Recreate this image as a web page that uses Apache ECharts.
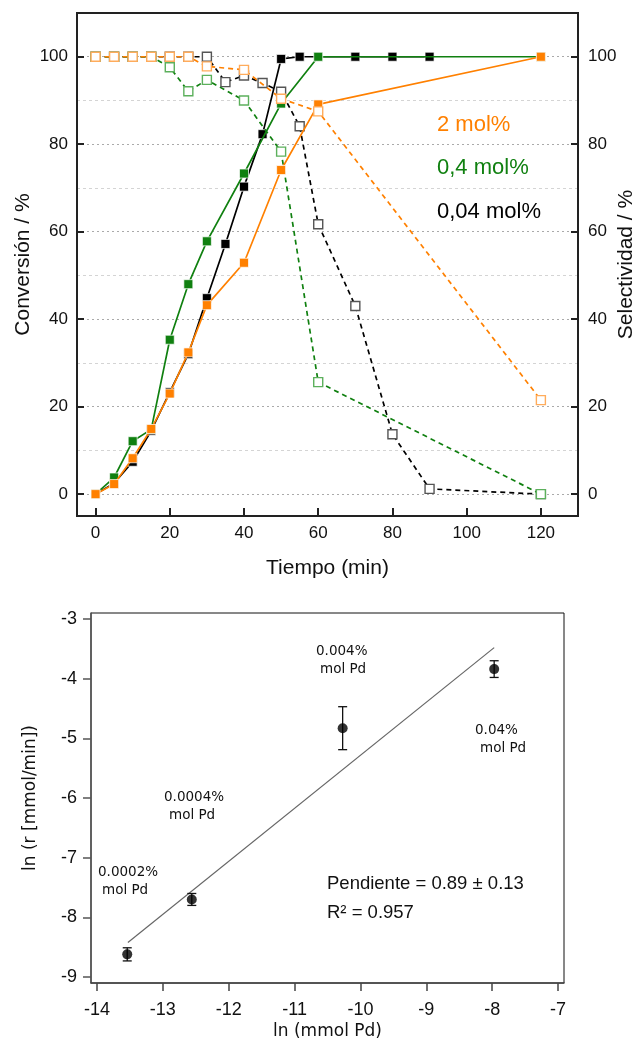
<!DOCTYPE html>
<html><head><meta charset="utf-8">
<script src="https://cdn.jsdelivr.net/npm/echarts@6/dist/echarts.min.js"></script>
<style>html,body{margin:0;padding:0;background:#fff}#c{width:639px;height:1043px}</style>
</head><body><div id="c"></div>
<script>
// ---------- top chart data ----------
const timeBlackConv = [0,5,10,15,20,25,30,35,40,45,50,55,70,80,90];
const convBlack     = [0,2.5,7.4,14.5,23.3,32,44.8,57.2,70.3,82.3,99.5,100,100,100,100];
const timeGreenConv = [0,5,10,15,20,25,30,40,50,60,120];
const convGreen     = [0,3.8,12.1,14.8,35.3,48,57.8,73.3,89.3,100,100];
const timeOrangeConv = [0,5,10,15,20,25,30,40,50,60,120];
const convOrange     = [0,2.3,8.2,14.9,23,32.4,43.2,52.9,74.1,89.1,100];

const timeBlackSel = [0,5,10,15,20,25,30,35,40,45,50,55,60,70,80,90,120];
const selBlack     = [100,100,100,100,100,100,100,94.2,95.7,94,92,84.1,61.7,43,13.7,1.2,0];
const timeGreenSel = [0,5,10,15,20,25,30,40,50,60,120];
const selGreen     = [100,100,100,100,97.6,92.1,94.7,90,78.3,25.6,0];
const timeOrangeSel = [0,5,10,15,20,25,30,40,50,60,120];
const selOrange     = [100,100,100,100,100,100,97.8,97,90.4,87.5,21.5];

const timeTicks = [0,20,40,60,80,100,120];
const pctTicks  = [0,20,40,60,80,100];
const pctMinor  = [10,30,50,70,90];
const seriesNames = ['2 mol%','0,4 mol%','0,04 mol%'];

// ---------- bottom chart data ----------
const lnPd    = [-13.54,-12.56,-10.27,-7.97];
const lnRate  = [-8.62,-7.70,-4.83,-3.84];
const rateErr = [0.11,0.10,0.36,0.14];
const fitX = [-13.53,-7.97];
const fitY = [-8.42,-3.48];
const lnPdTicks   = [-14,-13,-12,-11,-10,-9,-8,-7];
const lnRateTicks = [-9,-8,-7,-6,-5,-4,-3];
const pointLabels = [['0.0002%','mol Pd'],['0.0004%','mol Pd'],['0.004%','mol Pd'],['0.04%','mol Pd']];
const fitText1 = 'Pendiente = 0.89 \u00b1 0.13';
const fitText2 = 'R\u00b2 = 0.957';

const ORANGE = '#ff8000', GREEN = '#108010', BLACK = '#000000';
const FF = 'Liberation Sans, Arial, sans-serif';
const pairs = (xs, ys) => xs.map((x,i)=>[x, ys[i]]);

function convSeries(name, xs, ys, color, z) {
  return {type:'line', name, xAxisIndex:0, yAxisIndex:0, data:pairs(xs,ys), z,
    symbol:'rect', symbolSize:9, showAllSymbol:true, silent:true,
    lineStyle:{color, width:1.7},
    itemStyle:{color, borderColor:'rgba(255,255,255,0.7)', borderWidth:1}};
}
function selSeries(name, xs, ys, color, border, z) {
  return {type:'line', name, xAxisIndex:0, yAxisIndex:1, data:pairs(xs,ys), z,
    symbol:'rect', symbolSize:9, showAllSymbol:true, silent:true,
    lineStyle:{color, width:1.7, type:[5,4]},
    itemStyle:{color:'#fff', borderColor:border, borderWidth:1.4}};
}

const chart = echarts.init(document.getElementById('c'), null, {renderer:'canvas'});
const option = {
  animation:false,
  backgroundColor:'#fff',
  grid:[
    {left:77, top:13, width:501, height:503, show:true, borderColor:'#222', borderWidth:2, backgroundColor:'transparent', outerBoundsMode:'none', containLabel:false},
    {left:91, top:613, width:473, height:370, show:true, borderColor:'#111', borderWidth:1, backgroundColor:'transparent', outerBoundsMode:'none', containLabel:false}
  ],
  xAxis:[
    {gridIndex:0, type:'value', min:-5, max:130,
      axisLine:{show:true, onZero:false, lineStyle:{color:'#222', width:2}},
      axisTick:{show:true, inside:true, length:8, customValues:timeTicks, lineStyle:{color:'#222', width:2}},
      axisLabel:{customValues:timeTicks, fontSize:17, color:'#111', margin:9, fontFamily:FF},
      splitLine:{show:false},
      name:'Tiempo (min)', nameLocation:'middle', nameGap:42, nameMoveOverlap:false,
      nameTextStyle:{fontSize:21, color:'#111', fontFamily:FF}},
    {gridIndex:1, type:'value', min:-14.09, max:-6.91,
      axisLine:{show:true, onZero:false, lineStyle:{color:'#444', width:1.5}},
      axisTick:{show:true, inside:false, length:8, customValues:lnPdTicks, lineStyle:{color:'#444', width:1.5}},
      axisLabel:{customValues:lnPdTicks, fontSize:18, color:'#111', margin:18, fontFamily:FF},
      splitLine:{show:false},
      name:'ln (mmol Pd)', nameLocation:'middle', nameGap:40, nameMoveOverlap:false,
      nameTextStyle:{fontSize:17, color:'#111', fontFamily:'DejaVu Sans, sans-serif'}}
  ],
  yAxis:[
    {gridIndex:0, type:'value', min:-5, max:110, position:'left',
      axisLine:{show:true, onZero:false, lineStyle:{color:'#222', width:2}},
      axisTick:{show:true, inside:true, length:7, customValues:pctTicks, lineStyle:{color:'#222', width:2}},
      axisLabel:{customValues:pctTicks, fontSize:17, color:'#111', margin:9, fontFamily:FF},
      splitLine:{show:true, lineStyle:{color:'#aaa', width:1, type:[2,3]}},
      name:'Conversi\u00f3n / %', nameLocation:'middle', nameGap:43, nameRotate:90, nameMoveOverlap:false,
      nameTextStyle:{fontSize:21, color:'#111', fontFamily:FF}},
    {gridIndex:0, type:'value', min:-5, max:110, position:'right',
      axisLine:{show:true, onZero:false, lineStyle:{color:'#222', width:2}},
      axisTick:{show:true, inside:true, length:7, customValues:pctTicks, lineStyle:{color:'#222', width:2}},
      axisLabel:{customValues:pctTicks, fontSize:17, color:'#111', margin:10, fontFamily:FF},
      splitLine:{show:false},
      name:'Selectividad / %', nameLocation:'middle', nameGap:38, nameRotate:90, nameMoveOverlap:false,
      nameTextStyle:{fontSize:21, color:'#111', fontFamily:FF}},
    {gridIndex:0, type:'value', min:-5, max:110, position:'left',
      axisLine:{show:false}, axisTick:{show:false, customValues:pctMinor},
      axisLabel:{show:false, customValues:pctMinor},
      splitLine:{show:true, lineStyle:{color:'#d4d4d4', width:1, type:[3,3]}}},
    {gridIndex:1, type:'value', min:-9.1, max:-2.9, position:'left',
      axisLine:{show:true, onZero:false, lineStyle:{color:'#555', width:1.5}},
      axisTick:{show:true, inside:false, length:8, customValues:lnRateTicks, lineStyle:{color:'#555', width:1.5}},
      axisLabel:{customValues:lnRateTicks, fontSize:18, color:'#111', margin:14, fontFamily:FF},
      splitLine:{show:false},
      name:'ln (r [mmol/min])', nameLocation:'middle', nameGap:52, nameRotate:90, nameMoveOverlap:false,
      nameTextStyle:{fontSize:17, color:'#111', fontFamily:'DejaVu Sans, sans-serif'}}
  ],
  series:[
    convSeries('conv '+seriesNames[2], timeBlackConv, convBlack, BLACK, 2),
    selSeries('sel '+seriesNames[2], timeBlackSel, selBlack, BLACK, '#555', 3),
    convSeries('conv '+seriesNames[1], timeGreenConv, convGreen, GREEN, 4),
    selSeries('sel '+seriesNames[1], timeGreenSel, selGreen, GREEN, '#5cb05c', 5),
    convSeries('conv '+seriesNames[0], timeOrangeConv, convOrange, ORANGE, 6),
    selSeries('sel '+seriesNames[0], timeOrangeSel, selOrange, ORANGE, '#ffac5c', 7),
    {type:'line', name:'fit', xAxisIndex:1, yAxisIndex:3, data:pairs(fitX, fitY),
      symbol:'none', silent:true, lineStyle:{color:'#666', width:1.2}, z:2},
    {type:'custom', name:'err', xAxisIndex:1, yAxisIndex:3, silent:true, z:3,
      data: lnPd.map((x,i)=>[x, lnRate[i]-rateErr[i], lnRate[i]+rateErr[i]]),
      encode:{x:0, y:[1,2]},
      renderItem:(params, api)=>{
        const x = api.value(0);
        const p1 = api.coord([x, api.value(2)]);
        const p2 = api.coord([x, api.value(1)]);
        const w = 4.5, st = {stroke:'#111', lineWidth:1.3};
        return {type:'group', children:[
          {type:'line', shape:{x1:p1[0], y1:p1[1], x2:p2[0], y2:p2[1]}, style:st},
          {type:'line', shape:{x1:p1[0]-w, y1:p1[1], x2:p1[0]+w, y2:p1[1]}, style:st},
          {type:'line', shape:{x1:p2[0]-w, y1:p2[1], x2:p2[0]+w, y2:p2[1]}, style:st}
        ]};
      }},
    {type:'scatter', name:'pts', xAxisIndex:1, yAxisIndex:3, data:pairs(lnPd, lnRate),
      symbol:'circle', symbolSize:10, silent:true, itemStyle:{color:'#000'}, z:4}
  ],
  graphic:[
    {type:'text', x:437, y:125, style:{text:seriesNames[0], fill:ORANGE, font:'22px '+FF, textVerticalAlign:'middle', verticalAlign:'middle'}},
    {type:'text', x:437, y:168, style:{text:seriesNames[1], fill:GREEN, font:'22px '+FF, textVerticalAlign:'middle', verticalAlign:'middle'}},
    {type:'text', x:437, y:212, style:{text:seriesNames[2], fill:BLACK, font:'22px '+FF, textVerticalAlign:'middle', verticalAlign:'middle'}},
    {type:'text', x:98, y:872, style:{text:pointLabels[0][0], fill:'#111', font:'13.5px DejaVu Sans', verticalAlign:'middle', textVerticalAlign:'middle'}},
    {type:'text', x:102, y:890, style:{text:pointLabels[0][1], fill:'#111', font:'13.5px DejaVu Sans', verticalAlign:'middle', textVerticalAlign:'middle'}},
    {type:'text', x:164, y:797, style:{text:pointLabels[1][0], fill:'#111', font:'13.5px DejaVu Sans', verticalAlign:'middle', textVerticalAlign:'middle'}},
    {type:'text', x:169, y:815, style:{text:pointLabels[1][1], fill:'#111', font:'13.5px DejaVu Sans', verticalAlign:'middle', textVerticalAlign:'middle'}},
    {type:'text', x:316, y:651, style:{text:pointLabels[2][0], fill:'#111', font:'13.5px DejaVu Sans', verticalAlign:'middle', textVerticalAlign:'middle'}},
    {type:'text', x:320, y:669, style:{text:pointLabels[2][1], fill:'#111', font:'13.5px DejaVu Sans', verticalAlign:'middle', textVerticalAlign:'middle'}},
    {type:'text', x:475, y:730, style:{text:pointLabels[3][0], fill:'#111', font:'13.5px DejaVu Sans', verticalAlign:'middle', textVerticalAlign:'middle'}},
    {type:'text', x:480, y:748, style:{text:pointLabels[3][1], fill:'#111', font:'13.5px DejaVu Sans', verticalAlign:'middle', textVerticalAlign:'middle'}},
    {type:'text', x:327, y:884, style:{text:fitText1, fill:'#111', font:'18.5px '+FF, verticalAlign:'middle', textVerticalAlign:'middle'}},
    {type:'text', x:327, y:913, style:{text:fitText2, fill:'#111', font:'18.5px '+FF, verticalAlign:'middle', textVerticalAlign:'middle'}}
  ]
};
chart.setOption(option);
</script>
</body></html>
